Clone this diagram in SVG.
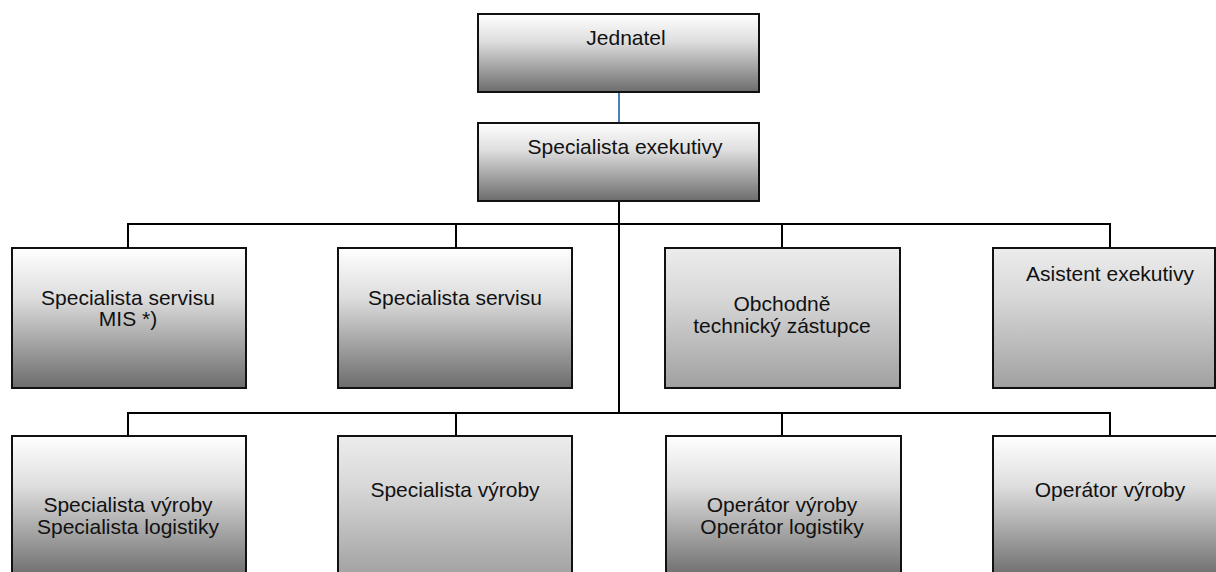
<svg xmlns="http://www.w3.org/2000/svg" width="1216" height="572" viewBox="0 0 1216 572">
<style>
text{font-family:"Liberation Sans",Arial,sans-serif;font-size:21px;fill:#111;text-anchor:middle}
.box{stroke:#111;stroke-width:2}
.dark{fill:url(#gDark)}
.light{fill:url(#gLight)}
.conn{stroke:#000;stroke-width:2;fill:none}
.blue{stroke:#4a7ebb;stroke-width:2;fill:none}
</style>
<defs>
<linearGradient id="gDark" x1="0" y1="0" x2="0" y2="1">
<stop offset="0" stop-color="#ffffff"/>
<stop offset="0.35" stop-color="#dedede"/>
<stop offset="1" stop-color="#6c6c6c"/>
</linearGradient>
<linearGradient id="gLight" x1="0" y1="0" x2="0" y2="1">
<stop offset="0" stop-color="#ececec"/>
<stop offset="0.35" stop-color="#d8d8d8"/>
<stop offset="1" stop-color="#a0a0a0"/>
</linearGradient>
</defs>
<g id="connectors">
<line class="blue" x1="619" y1="92" x2="619" y2="123"/>
<line class="conn" x1="619" y1="201" x2="619" y2="413"/>
<polyline class="conn" points="128,248 128,224 1110,224 1110,248"/>
<line class="conn" x1="456" y1="224" x2="456" y2="248"/>
<line class="conn" x1="782" y1="224" x2="782" y2="248"/>
<polyline class="conn" points="128,436 128,413 1110,413 1110,436"/>
<line class="conn" x1="456" y1="413" x2="456" y2="436"/>
<line class="conn" x1="782" y1="413" x2="782" y2="436"/>
</g>
<g id="jednatel">
<rect class="box dark" x="478" y="14" width="281" height="78"/>
<text x="626" y="45">Jednatel</text>
</g>
<g id="specialista-exekutivy">
<rect class="box dark" x="478" y="123" width="281" height="78"/>
<text x="625" y="154">Specialista exekutivy</text>
</g>
<g id="specialista-servisu-mis">
<rect class="box dark" x="12" y="248" width="234" height="140"/>
<text x="128" y="305">Specialista servisu</text>
<text x="128" y="326">MIS *)</text>
</g>
<g id="specialista-servisu">
<rect class="box dark" x="338" y="248" width="234" height="140"/>
<text x="455" y="305">Specialista servisu</text>
</g>
<g id="obchodne-technicky-zastupce">
<rect class="box light" x="665" y="248" width="235" height="140"/>
<text x="782" y="311">Obchodně</text>
<text x="782" y="333">technický zástupce</text>
</g>
<g id="asistent-exekutivy">
<rect class="box light" x="993" y="248" width="222" height="140"/>
<text x="1110" y="281">Asistent exekutivy</text>
</g>
<g id="specialista-vyroby-logistiky">
<rect class="box dark" x="12" y="436" width="234" height="142"/>
<text x="128" y="512">Specialista výroby</text>
<text x="128" y="534">Specialista logistiky</text>
</g>
<g id="specialista-vyroby">
<rect class="box light" x="338" y="436" width="234" height="142"/>
<text x="455" y="497">Specialista výroby</text>
</g>
<g id="operator-vyroby-logistiky">
<rect class="box dark" x="666" y="436" width="235" height="142"/>
<text x="782" y="512">Operátor výroby</text>
<text x="782" y="534">Operátor logistiky</text>
</g>
<g id="operator-vyroby">
<rect class="box dark" x="993" y="436" width="230" height="142"/>
<text x="1110" y="497">Operátor výroby</text>
</g>
</svg>
